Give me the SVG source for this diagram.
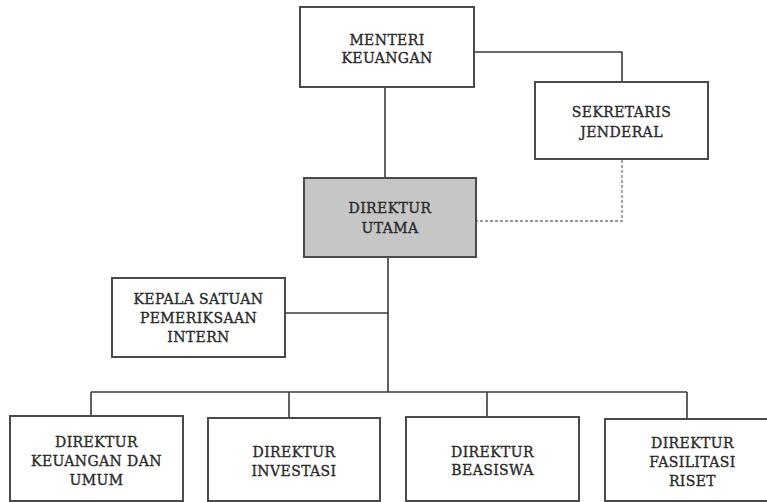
<svg xmlns="http://www.w3.org/2000/svg" width="767" height="502" viewBox="0 0 767 502">
<style>
.box{fill:#fff;stroke:#4a4a4a;stroke-width:2}
.main{fill:#c6c6c6;stroke:#4a4a4a;stroke-width:2}
.ln{fill:none;stroke:#3a3a3a;stroke-width:1.6}
.dash{fill:none;stroke:#777;stroke-width:1.3;stroke-dasharray:3 2}
text{font-family:"DejaVu Serif","Liberation Serif",serif;font-size:14px;fill:#2a2a2a;stroke:#2a2a2a;stroke-width:0.35;text-anchor:middle;letter-spacing:0.4px}
</style>
<rect width="767" height="502" fill="#fff"/>
<g id="connectors">
<path class="ln" d="M385 87V178"/>
<path class="ln" d="M474 52H622V82"/>
<path class="dash" d="M622 160V221H476"/>
<path class="ln" d="M388 257V392"/>
<path class="ln" d="M285 313H388"/>
<path class="ln" d="M91 392H687"/>
<path class="ln" d="M91 392V416M289 392V418M487 392V417M687 392V419"/>
</g>
<g id="menteri"><rect class="box" x="300" y="7" width="174" height="80"/><text x="387" y="45">MENTERI</text><text x="387" y="63">KEUANGAN</text></g>
<g id="sekretaris"><rect class="box" x="535" y="82" width="173" height="77"/><text x="621.5" y="117">SEKRETARIS</text><text x="621.5" y="137">JENDERAL</text></g>
<g id="direktur-utama"><rect class="main" x="304" y="178" width="172" height="79"/><text x="390" y="213">DIREKTUR</text><text x="390" y="233">UTAMA</text></g>
<g id="kepala-spi"><rect class="box" x="112" y="278" width="173" height="79"/><text x="198.5" y="304">KEPALA SATUAN</text><text x="198.5" y="323">PEMERIKSAAN</text><text x="198.5" y="342">INTERN</text></g>
<g id="dir-keuangan"><rect class="box" x="10" y="416" width="173" height="85"/><text x="96.5" y="447">DIREKTUR</text><text x="96.5" y="466">KEUANGAN DAN</text><text x="96.5" y="485">UMUM</text></g>
<g id="dir-investasi"><rect class="box" x="208" y="418" width="172" height="83"/><text x="294" y="457">DIREKTUR</text><text x="294" y="476">INVESTASI</text></g>
<g id="dir-beasiswa"><rect class="box" x="406" y="417" width="173" height="84"/><text x="492.5" y="457">DIREKTUR</text><text x="492.5" y="475">BEASISWA</text></g>
<g id="dir-riset"><rect class="box" x="605" y="419" width="175" height="82"/><text x="692.5" y="448">DIREKTUR</text><text x="692.5" y="467">FASILITASI</text><text x="692.5" y="486">RISET</text></g>
</svg>
